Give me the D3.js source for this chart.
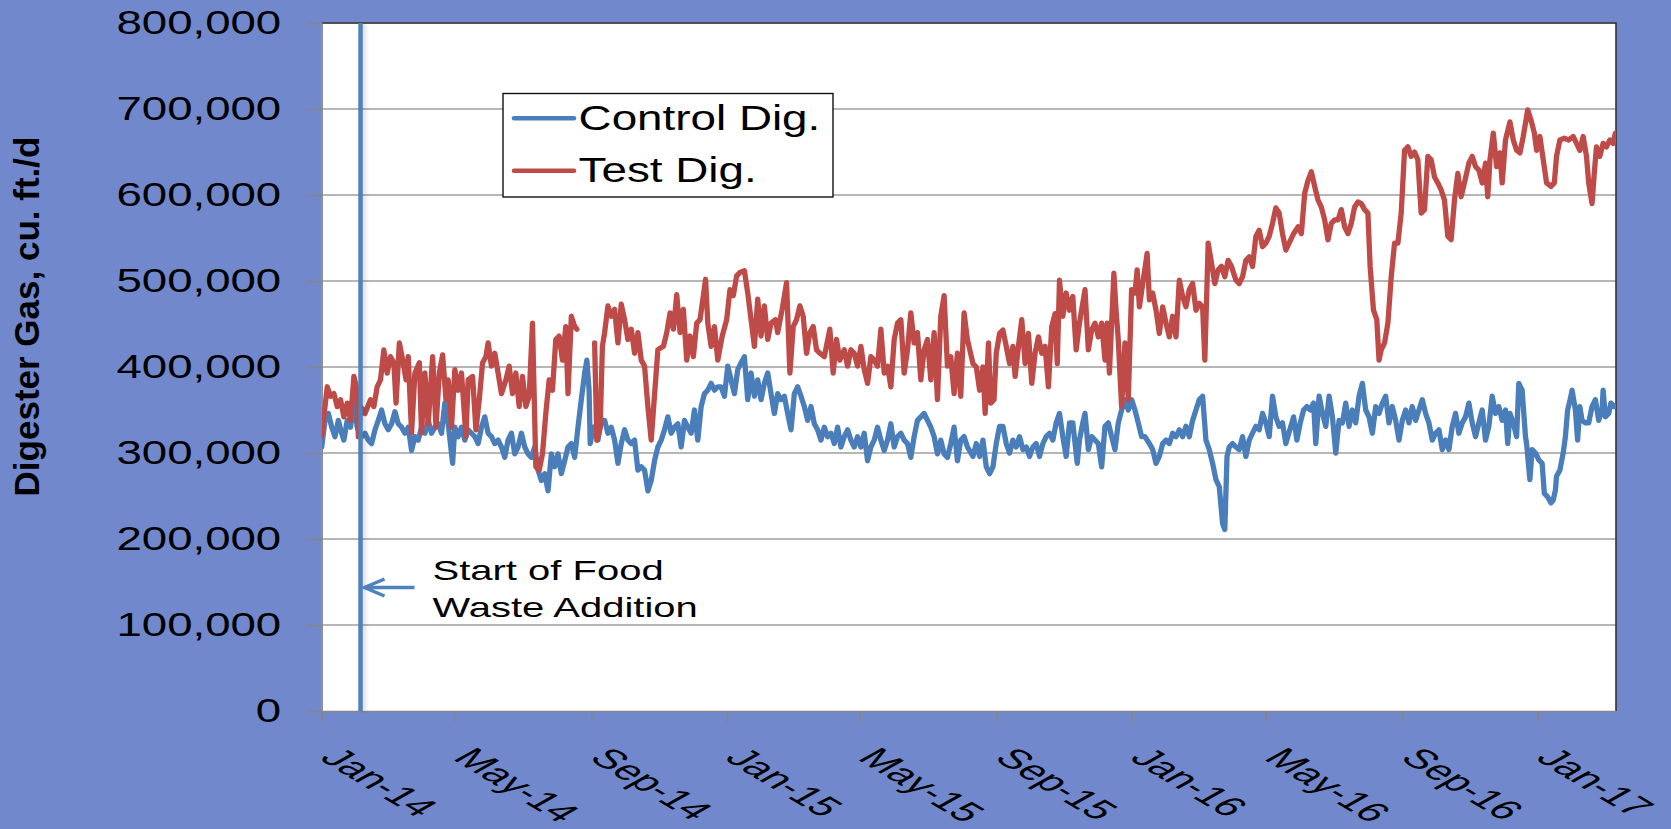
<!DOCTYPE html>
<html><head><meta charset="utf-8">
<script src="https://cdn.jsdelivr.net/npm/d3@7"></script>
<style>html,body{margin:0;padding:0;background:#7189CC;} svg{display:block;}</style>
</head><body>
<svg id="chart" width="1671" height="829"></svg>
<script>
// ---- data (day offsets from 2014-01-01, values in thousand cu. ft./d) ----
const seriesNames = ["Control Dig.", "Test Dig."];
const yTickValues = [0, 100000, 200000, 300000, 400000, 500000, 600000, 700000, 800000];
const xTickDates = ["2014-01-01","2014-05-01","2014-09-01","2015-01-01","2015-05-01","2015-09-01","2016-01-01","2016-05-01","2016-09-01","2017-01-01"];
const annotationDate = "2014-02-05";
const annotationText = ["Start of Food", "Waste Addition"];
const yTitle = "Digester Gas, cu. ft./d";

const controlDays = [0,3,6,9,12,15,18,20,23,26,29,32,34,36,39,42,45,48,51,54,57,60,63,66,69,72,75,78,81,84,87,90,93,96,99,102,105,108,111,114,118,120,123,126,129,132,135,138,141,144,147,150,153,156,159,162,165,168,171,174,177,180,183,186,189,192,195,198,201,204,207,210,213,216,219,222,225,228,231,234,237,239,241,242,245,249,252,255,258,261,264,267,270,273,276,279,282,285,288,
291,294,297,300,303,306,309,312,315,318,321,324,327,330,333,336,339,342,345,348,351,354,357,360,363,366,369,372,375,378,381,384,387,390,393,396,399,402,405,408,411,414,417,420,423,426,429,432,435,438,441,444,447,450,453,456,459,462,465,468,471,474,477,480,483,486,489,492,495,498,501,504,507,510,513,516,519,522,525,528,531,534,537,540,543,546,549,552,555,558,561,564,567,570,573,576,579,582,
587,590,593,596,599,602,605,608,611,614,617,620,623,626,629,632,635,638,641,644,647,650,653,656,659,662,665,668,671,674,677,681,683,686,688,691,694,697,700,703,706,709,712,715,718,721,724,727,730,733,736,739,742,746,749,752,755,758,761,764,767,770,773,776,779,782,785,788,791,794,797,800,803,806,809,812,814,816,818,821,824,827,830,833,836,839,842,845,848,851,854,857,860,863,866,869,
876,879,882,885,888,891,894,896,899,902,905,908,911,914,917,920,923,926,929,932,935,938,941,944,947,950,953,956,959,962,965,968,971,974,977,980,983,986,989,992,995,998,1001,1004,1007,1010,1013,1016,1019,1022,1025,1028,1031,1034,1037,1040,1043,1046,1049,1052,1055,1058,1061,1064,1067,1069,1071,1074,1077,1079,1082,1085,1086,1089,1091,1094,1097,1100,1102,1105,1108,1110,1112,1113,1116,1119,1121,1123,1126,1127,1130,1132,1134,1136,1139,1142,1145,1148,1151,1154,1155,1157,1160,1162,1165];
const controlValues = [307,338,346,330,319,338,323,315,338,330,358,330,323,319,323,315,311,327,338,350,334,327,334,348,334,330,323,330,303,319,315,330,323,338,323,330,334,323,358,334,288,330,319,330,315,327,323,319,311,330,342,323,319,311,315,307,295,315,323,299,307,323,307,299,295,307,280,268,276,256,299,284,299,276,291,307,311,295,330,362,393,408,373,311,330,315,338,338,323,330,315,288,311,327,315,311,315,280,284,
280,256,268,291,307,315,327,342,323,330,334,307,338,330,323,350,315,354,369,373,381,373,377,377,366,401,385,369,397,405,412,362,393,366,385,362,381,393,369,346,369,362,366,346,327,369,377,366,354,338,354,334,327,315,330,319,323,311,330,307,319,327,315,307,319,307,323,291,307,315,330,315,303,315,334,307,319,323,315,311,295,319,338,342,346,338,330,319,299,315,299,295,311,330,291,315,319,307,
296,311,296,315,284,276,284,311,331,331,311,300,315,307,319,304,307,296,307,311,296,311,319,323,315,335,346,319,296,335,335,288,315,335,346,304,319,315,311,284,331,335,319,304,335,350,362,350,362,350,335,319,319,311,304,288,296,311,315,311,323,319,327,319,331,319,338,350,362,366,315,304,288,269,261,218,211,296,307,311,307,304,319,296,315,323,331,327,346,335,319,366,342,331,335,311,
342,315,335,350,354,350,358,311,366,346,331,366,342,300,338,335,358,331,350,335,366,381,350,342,323,354,346,358,366,335,354,338,315,338,350,335,354,338,350,362,346,335,315,323,327,304,315,304,331,346,323,335,342,358,335,319,335,350,315,331,366,346,354,338,350,311,346,335,319,381,373,319,311,269,304,300,292,288,253,249,242,245,257,273,280,300,319,350,366,373,350,315,354,338,335,335,354,362,338,350,373,342,346,358,354];

const testDays = [0,5,8,11,14,17,20,23,26,29,32,33,35,39,44,47,50,53,56,59,62,65,67,70,73,76,78,81,84,88,90,93,96,100,103,106,109,112,114,117,120,123,126,130,132,136,139,142,145,148,150,153,156,159,162,166,169,172,175,178,181,184,187,190,193,196,199,202,205,208,211,214,217,220,222,225,228,230,238,246,248,251,253,255,258,261,264,267,270,273,276,279,282,285,288,
291,294,297,303,308,311,314,317,320,323,326,329,332,335,338,341,344,346,348,351,354,357,361,365,368,371,374,377,381,384,387,390,393,396,399,402,405,409,411,415,419,422,425,428,431,434,437,440,443,446,449,453,458,461,464,467,471,474,477,480,483,486,489,492,495,498,501,504,507,510,513,516,519,522,525,528,531,534,537,540,543,546,549,552,555,558,561,564,567,570,573,576,579,582,
587,590,593,596,598,601,603,606,608,611,614,617,620,623,625,628,631,634,637,640,643,646,649,652,655,658,661,663,665,668,671,674,677,680,683,688,691,694,697,700,703,706,708,710,714,716,718,721,724,727,730,733,735,737,740,744,746,749,752,755,758,761,764,767,770,773,776,779,782,785,788,791,794,796,799,802,805,808,811,814,817,820,824,827,830,833,836,839,842,845,848,851,854,857,860,863,866,869,
876,880,883,886,889,892,895,898,901,904,907,910,913,916,919,922,925,928,931,934,937,940,943,945,948,951,953,955,958,961,964,967,970,973,976,979,982,985,988,991,994,997,1000,1003,1006,1009,1012,1015,1018,1021,1024,1027,1030,1034,1037,1040,1043,1046,1049,1051,1053,1056,1059,1062,1064,1067,1071,1074,1077,1080,1083,1087,1090,1093,1095,1098,1101,1104,1108,1111,1113,1116,1120,1124,1128,1131,1134,1137,1140,1142,1145,1147,1149,1152,1155,1158,1161,1164,1166];
const testValues = [319,377,366,369,354,362,342,358,338,389,373,319,354,346,362,354,377,385,420,393,412,405,358,428,408,385,412,323,393,405,323,393,334,412,330,393,414,362,385,330,397,373,393,319,385,389,327,362,405,412,428,401,416,393,369,385,401,369,393,354,389,354,366,451,284,280,299,346,385,373,432,436,408,447,369,459,447,444,null,428,315,330,424,440,471,459,467,428,473,455,432,444,416,440,408,
401,354,315,420,424,440,463,444,484,440,467,408,436,412,451,455,483,502,451,424,447,408,436,455,490,483,506,510,512,486,455,424,479,436,471,432,451,455,440,467,498,393,447,455,471,459,416,440,447,420,416,412,444,393,432,408,420,401,420,416,401,424,397,381,412,408,401,444,393,401,377,432,451,455,393,420,463,428,440,385,420,432,385,440,362,459,483,401,412,369,416,366,463,432,
404,400,373,400,346,428,358,362,416,439,443,424,404,424,389,424,455,404,439,381,416,435,416,424,377,447,462,404,501,459,486,466,482,420,451,490,420,443,451,435,451,408,451,393,509,466,431,354,428,362,490,486,513,470,497,532,478,486,466,439,470,451,435,459,435,501,482,470,490,497,466,474,470,408,544,521,497,513,517,505,524,517,501,497,505,524,528,517,552,559,540,544,552,567,585,579,555,536,
555,563,555,602,617,627,610,594,586,571,548,567,571,571,583,563,555,567,586,592,590,583,579,517,466,455,408,420,428,451,505,544,544,579,652,656,645,650,641,579,583,645,641,621,614,606,594,552,548,594,625,598,614,637,645,633,629,614,637,598,641,672,633,649,614,664,685,664,652,649,668,699,687,672,652,668,641,614,610,614,645,664,666,664,668,660,652,668,645,614,590,625,656,645,660,656,664,660,672];

// ---- setup ----
const W = 1671, H = 829;
const plot = {left: 321.7, right: 1616, top: 23, bottom: 711};
const FONT = "'Liberation Sans', Arial, Helvetica, sans-serif";
const colors = {control: "#4A7EBB", test: "#BE4B48", bg: "#7189CC", grid: "#9E9E9E", axis: "#868686"};
const base = Date.UTC(2014, 0, 1);
const dayToDate = d => new Date(base + d * 86400000);
const parse = d3.utcParse("%Y-%m-%d");

const svg = d3.select("#chart");
svg.append("rect").attr("width", W).attr("height", H).attr("fill", colors.bg);

const x = d3.scaleUtc().domain([dayToDate(0), dayToDate(1166.6)]).range([plot.left, plot.right]);
const y = d3.scaleLinear().domain([0, 800000]).range([plot.bottom, plot.top]);

const defs = svg.append("defs");
const f = defs.append("filter").attr("id", "shadow").attr("filterUnits", "userSpaceOnUse")
  .attr("x", 0).attr("y", 0).attr("width", W).attr("height", H);
f.append("feDropShadow").attr("dx", 2.5).attr("dy", 0).attr("stdDeviation", 2.2).attr("flood-color", "#000").attr("flood-opacity", 0.16);
defs.append("clipPath").attr("id", "clip").append("rect")
  .attr("x", plot.left).attr("y", plot.top - 5).attr("width", plot.right - plot.left).attr("height", plot.bottom - plot.top + 5);

// plot area
svg.append("rect").attr("x", plot.left).attr("y", plot.top)
  .attr("width", plot.right - plot.left).attr("height", plot.bottom - plot.top).attr("fill", "#fff");

// gridlines
svg.append("g").selectAll("line").data(yTickValues.filter(v => v > 0)).join("line")
  .attr("x1", plot.left).attr("x2", plot.right)
  .attr("y1", d => y(d)).attr("y2", d => y(d))
  .attr("stroke", colors.grid).attr("stroke-width", 1.4);

// borders top / right
svg.append("path").attr("d", `M${plot.left},${plot.top}H${plot.right}V${plot.bottom}`)
  .attr("fill", "none").attr("stroke", "#333").attr("stroke-width", 1.6);

// y axis
const yAxis = svg.append("g").attr("transform", `translate(${plot.left},0)`)
  .call(d3.axisLeft(y).tickValues(yTickValues).tickSize(15).tickSizeOuter(0).tickFormat(d3.format(",")));
yAxis.selectAll("path,line").attr("stroke", colors.axis).attr("stroke-width", 1.5);
yAxis.selectAll("text")
  .attr("x", null).attr("dy", null)
  .attr("text-anchor", "end")
  .attr("transform", "translate(-40.5,10.3) scale(1,0.735)")
  .style("font-family", FONT).style("font-size", "45.6px").attr("fill", "#000");

// x axis
const xAxis = svg.append("g").attr("transform", `translate(0,${plot.bottom})`)
  .call(d3.axisBottom(x).tickValues(xTickDates.map(parse)).tickSize(11).tickSizeOuter(0).tickFormat(d3.utcFormat("%b-%y")));
xAxis.selectAll("path,line").attr("stroke", colors.axis).attr("stroke-width", 1.5);
xAxis.selectAll("text")
  .attr("y", null).attr("dy", null)
  .attr("text-anchor", "start")
  .attr("transform", "translate(-3.7,48) scale(1,0.58) rotate(46)")
  .style("font-family", FONT).style("font-size", "46.5px").attr("fill", "#000");

// series
const mk = (days, vals) => days.map((d, i) => ({date: dayToDate(d), v: vals[i] == null ? null : vals[i] * 1000}));
const series = [
  {name: seriesNames[0], color: colors.control, data: mk(controlDays, controlValues)},
  {name: seriesNames[1], color: colors.test, data: mk(testDays, testValues)}
];
const line = d3.line().defined(d => d.v != null).x(d => x(d.date)).y(d => y(d.v));
svg.append("g").attr("clip-path", "url(#clip)").selectAll("path").data(series).join("path")
  .attr("d", d => line(d.data)).attr("fill", "none")
  .attr("stroke", d => d.color).attr("stroke-width", 5.3)
  .attr("stroke-linejoin", "round").attr("stroke-linecap", "round");

// y title
svg.append("text").text(yTitle)
  .attr("transform", "translate(38.5,316.5) rotate(-90)")
  .attr("text-anchor", "middle")
  .style("font-family", FONT).style("font-size", "35px").style("font-weight", "bold").attr("fill", "#000");

// legend
const lg = svg.append("g");
lg.append("rect").attr("x", 503).attr("y", 93.5).attr("width", 330).attr("height", 103.5)
  .attr("fill", "#fff").attr("stroke", "#111").attr("stroke-width", 1.4);
const lrows = lg.selectAll("g.row").data(series).join("g").attr("class", "row")
  .attr("transform", (d, i) => `translate(0,${i * 52.4})`);
lrows.append("line").attr("x1", 514).attr("x2", 574).attr("y1", 118.3).attr("y2", 118.3)
  .attr("stroke", d => d.color).attr("stroke-width", 4.5).attr("stroke-linecap", "round");
lrows.append("text").text(d => d.name)
  .attr("transform", "translate(578.6,130) scale(1,0.76)")
  .style("font-family", FONT).style("font-size", "45.8px").attr("fill", "#000");

// annotation: vertical line + arrow + text
const ax = x(parse(annotationDate));
svg.append("line").attr("x1", ax).attr("x2", ax).attr("y1", plot.top).attr("y2", plot.bottom)
  .attr("stroke", "#4F81BD").attr("stroke-width", 4.5).attr("filter", "url(#shadow)");
const ay = 587.5;
svg.append("line").attr("x1", ax + 54).attr("x2", ax + 5).attr("y1", ay).attr("y2", ay)
  .attr("stroke", "#4F81BD").attr("stroke-width", 3.5);
svg.append("path").attr("d", `M${ax + 24},${ay - 8.5}L${ax + 4},${ay}L${ax + 24},${ay + 8.5}`)
  .attr("fill", "none").attr("stroke", "#4F81BD").attr("stroke-width", 3.5);
svg.append("g").selectAll("text").data(annotationText).join("text").text(d => d)
  .attr("transform", (d, i) => `translate(432.5,${580 + i * 36.7}) scale(1,0.70)`)
  .style("font-family", FONT).style("font-size", "40px").attr("fill", "#000");
</script>
</body></html>
